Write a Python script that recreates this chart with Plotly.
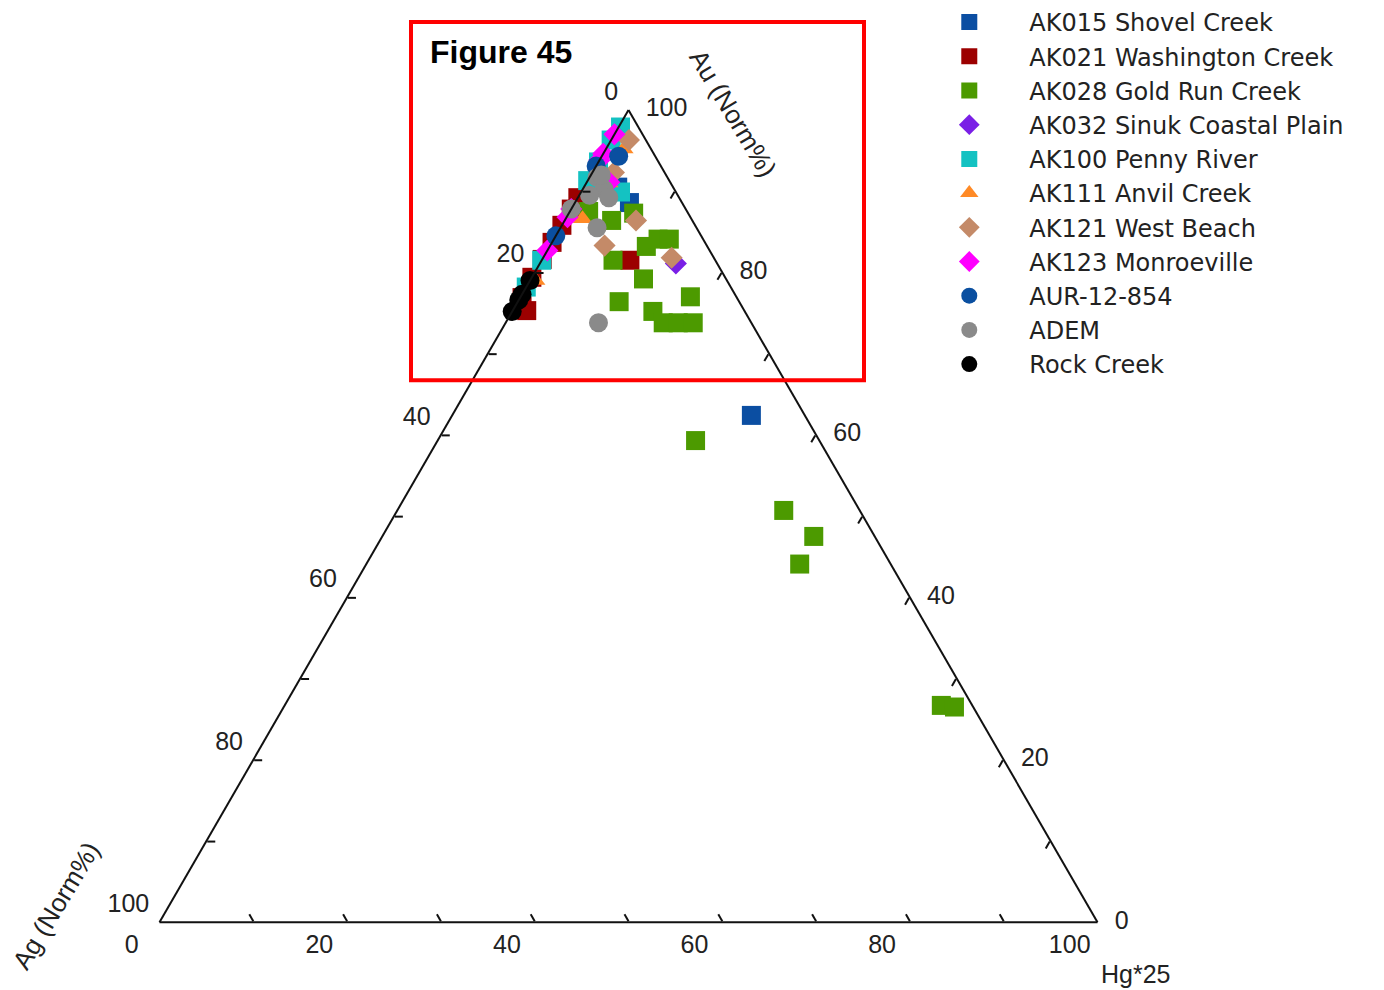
import plotly.graph_objects as go

W, H = 1384, 990

# ---- data: (Au, Hg*25, Ag) normalized percentages ----
series_names = ["AK015 Shovel Creek", "AK021 Washington Creek", "AK028 Gold Run Creek",
                "AK032 Sinuk Coastal Plain", "AK100 Penny River", "AK111 Anvil Creek",
                "AK121 West Beach", "AK123 Monroeville", "AUR-12-854", "ADEM", "Rock Creek"]

ak015_au = [62.4, 88.6, 90.5]
ak015_hg = [31.9, 5.8, 3.6]
ak015_ag = [5.7, 5.6, 5.9]

ak021_au = [89.2, 87.8, 85.8, 83.7, 81.6, 79.4, 76.9, 75.3, 81.5]
ak021_hg = [0.0, 0.0, 0.0, 0.0, 0.0, 0.0, 0.2, 1.5, 9.4]
ak021_ag = [10.8, 12.2, 14.2, 16.3, 18.4, 20.6, 22.9, 23.2, 9.1]

ak028_au = [87.5, 86.4, 87.3, 83.2, 84.1, 84.1, 81.5, 79.2, 76.4, 77.0, 75.2, 73.8, 73.8, 73.8,
            59.3, 50.7, 47.5, 44.1, 26.7, 26.5]
ak028_hg = [2.0, 5.0, 6.9, 10.3, 11.1, 12.3, 7.6, 12.0, 10.8, 18.1, 15.0, 16.8, 18.4, 20.0,
            27.5, 41.2, 46.0, 46.2, 70.0, 71.5]
ak028_ag = [10.5, 8.6, 5.8, 6.5, 4.8, 3.6, 10.9, 8.8, 12.8, 4.9, 9.8, 9.4, 7.8, 6.2,
            13.2, 8.1, 6.5, 9.7, 3.3, 2.0]

ak032_au = [81.1]
ak032_hg = [14.5]
ak032_ag = [4.4]

ak100_au = [97.9, 96.3, 93.6, 91.3, 89.9, 81.5, 78.2]
ak100_hg = [0.2, 0.0, 0.0, 0.0, 4.2, 0.0, 0.0]
ak100_ag = [1.9, 3.7, 6.4, 8.7, 5.9, 18.5, 21.8]

ak111_au = [95.2, 91.0, 86.6, 79.0]
ak111_hg = [1.9, 2.4, 1.8, 0.6]
ak111_ag = [2.9, 6.6, 11.6, 20.4]

ak121_au = [96.3, 92.3, 86.4, 83.3, 81.8]
ak121_hg = [1.9, 2.3, 7.6, 5.8, 13.7]
ak121_ag = [1.8, 5.4, 6.0, 10.9, 4.5]

ak123_au = [97.0, 94.6, 93.8, 91.1, 87.8, 86.8, 82.7]
ak123_hg = [0.0, 0.0, 0.0, 2.4, 0.0, 0.1, 0.0]
ak123_ag = [3.0, 5.4, 6.2, 6.5, 12.2, 13.1, 17.3]

aur_au = [94.3, 93.1, 84.5]
aur_hg = [1.8, 0.0, 0.0]
aur_ag = [3.9, 6.9, 15.5]

adem_au = [91.7, 90.2, 89.5, 92.0, 89.2, 87.8, 85.5, 73.8]
adem_hg = [0.8, 2.3, 1.1, 1.1, 3.3, 0.0, 3.9, 9.9]
adem_ag = [7.5, 7.5, 9.4, 6.9, 7.5, 12.2, 10.6, 16.3]

rock_au = [79.0, 77.3, 76.6, 75.2]
rock_hg = [0.0, 0.0, 0.0, 0.0]
rock_ag = [21.0, 22.7, 23.4, 24.8]

tick_vals = [0, 10, 20, 30, 40, 50, 60, 70, 80, 90, 100]
# labels read along each edge (0 -> 100 counter-clockwise, as in the original figure)
edge_labels = ["100", "", "80", "", "60", "", "40", "", "20", "", "0"]

NB = "\u00a0"
left_text = [(t + NB + "<br>" + NB) if t else "" for t in edge_labels]
bottom_text = [(t + NB * 8) if t else "" for t in edge_labels]
right_text = [(NB * 2 + t) if t else "" for t in edge_labels]

# ---- styles ----
styles = [
    ("square", "#0b4ea2", 19),
    ("square", "#9c0000", 19),
    ("square", "#4c9a00", 19),
    ("diamond", "#7a1fe6", 17),
    ("square", "#14c2c2", 19),
    ("triangle-up", "#ff8a26", 17),
    ("diamond", "#c48a68", 17),
    ("diamond", "#ff00ff", 17),
    ("circle", "#0a4fa0", 19),
    ("circle", "#8a8a8a", 19),
    ("circle", "#000000", 19),
]
data = [
    (ak015_au, ak015_ag, ak015_hg), (ak021_au, ak021_ag, ak021_hg), (ak028_au, ak028_ag, ak028_hg),
    (ak032_au, ak032_ag, ak032_hg), (ak100_au, ak100_ag, ak100_hg), (ak111_au, ak111_ag, ak111_hg),
    (ak121_au, ak121_ag, ak121_hg), (ak123_au, ak123_ag, ak123_hg), (aur_au, aur_ag, aur_hg),
    (adem_au, adem_ag, adem_hg), (rock_au, rock_ag, rock_hg),
]

fig = go.Figure()
for name, (sym, col, size), (au, ag, hg) in zip(series_names, styles, data):
    fig.add_trace(go.Scatterternary(
        a=au, b=ag, c=hg, mode="markers", name=name,
        marker=dict(symbol=sym, color=col, size=size, line=dict(width=0)),
        cliponaxis=False,
    ))

tickfont = dict(family="Liberation Sans, Arial, sans-serif", size=25, color="#222222")


def axis(texts):
    return dict(showline=True, linecolor="#111111", linewidth=2, showgrid=False,
                ticks="inside", ticklen=8, tickwidth=1.5, tickcolor="#111111",
                tickmode="array", tickvals=tick_vals, ticktext=texts,
                tickfont=tickfont, title=dict(text=""), min=0)


# triangle placement (pixels)
tri_w = 938
cx, top = 628.5, 109
tri_h = tri_w * 3 ** 0.5 / 2
cy = top + tri_h / 2
dom_x = [(cx - tri_w / 2) / W, (cx + tri_w / 2) / W]
dom_y = [1 - (cy + 430) / H, 1 - (cy - 430) / H]

fig.update_layout(
    width=W, height=H,
    margin=dict(l=0, r=0, t=0, b=0),
    paper_bgcolor="white",
    ternary=dict(
        sum=100, bgcolor="white",
        domain=dict(x=dom_x, y=dom_y),
        aaxis=axis(left_text), baxis=axis(bottom_text), caxis=axis(right_text),
    ),
    showlegend=True,
    legend=dict(
        x=0.657, y=1.0 + 2 / H, xanchor="left", yanchor="top",
        font=dict(family="DejaVu Sans, Verdana, sans-serif", size=24, color="#222222"),
        itemwidth=110, bgcolor="rgba(0,0,0,0)", itemsizing="trace",
    ),
    font=dict(family="Liberation Sans, Arial, sans-serif", color="#222222"),
)


def px(x, y):
    return dict(x=x / W, y=1 - y / H, xref="paper", yref="paper")


title_font = dict(family="Liberation Sans, Arial, sans-serif", size=26, color="#222222")
fig.add_annotation(text="Au (Norm%)", textangle=59, showarrow=False, font=title_font,
                   xanchor="center", yanchor="middle", **px(733, 111))
fig.add_annotation(text="Ag (Norm%)", textangle=-59, showarrow=False, font=title_font,
                   xanchor="center", yanchor="middle", **px(56, 906))
fig.add_annotation(text="Hg*25", showarrow=False,
                   font=dict(family="Liberation Sans, Arial, sans-serif", size=25, color="#222222"),
                   xanchor="center", yanchor="middle", **px(1136, 974))
fig.add_annotation(text="<b>Figure 45</b>", showarrow=False,
                   font=dict(family="Liberation Sans, Arial, sans-serif", size=32, color="black"),
                   xanchor="left", yanchor="middle", **px(428, 50))

fig.add_shape(type="rect", xref="paper", yref="paper",
              x0=411 / W, x1=864 / W, y0=1 - 379 / H, y1=1 - 20 / H,
              line=dict(color="#ff0000", width=4), layer="above")

fig.write_html("out.html")
